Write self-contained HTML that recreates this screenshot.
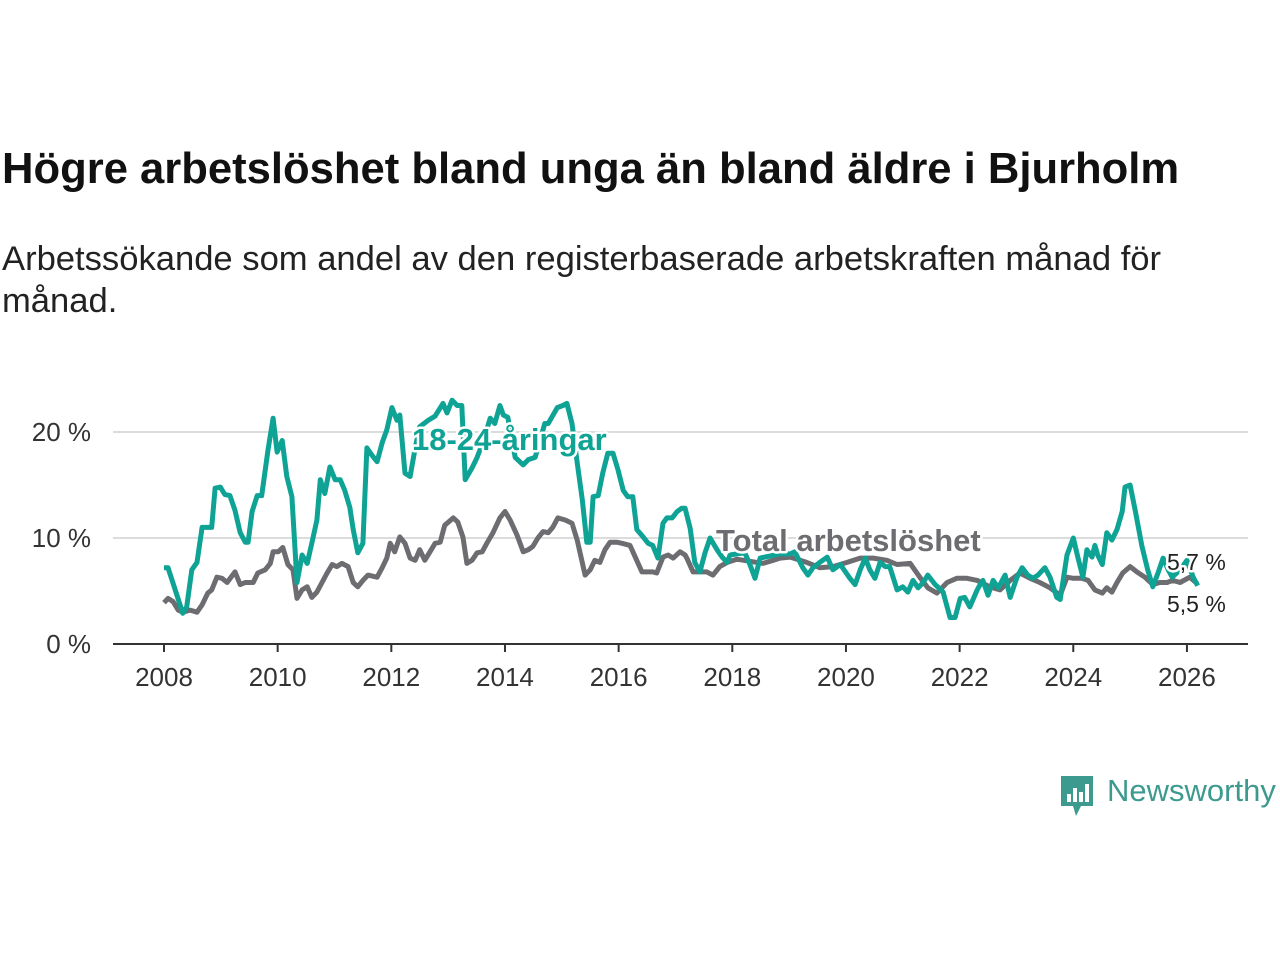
<!DOCTYPE html>
<html><head><meta charset="utf-8">
<style>
body{margin:0;width:1280px;height:960px;background:#fff;font-family:"Liberation Sans","DejaVu Sans",sans-serif;overflow:hidden;position:relative}
h1{position:absolute;left:2px;top:145px;margin:0;font-size:43.6px;font-weight:bold;color:#111;white-space:nowrap}
.sub{position:absolute;left:2px;top:238px;margin:0;font-size:34.6px;line-height:42px;color:#222;width:1250px}
svg{position:absolute;left:0;top:0}
</style></head><body>
<h1>Högre arbetslöshet bland unga än bland äldre i Bjurholm</h1>
<p class="sub">Arbetssökande som andel av den registerbaserade arbetskraften månad för<br>månad.</p>
<svg id="chart" width="1280" height="960"></svg>
<div style="position:absolute;left:1059px;top:774px;">
<svg width="36" height="44" style="position:absolute;left:0;top:0">
<path d="M2 2 H34 V32 H22 L17 42 L14 32 H2 Z" fill="#3d9a8e"/>
<rect x="8" y="20" width="4" height="8" fill="#fff"/><rect x="14" y="14" width="4" height="14" fill="#fff"/><rect x="20" y="18" width="4" height="10" fill="#fff"/><rect x="26" y="10" width="4" height="18" fill="#fff"/>
</svg>
<span style="position:absolute;left:48px;top:-1px;font-size:31px;color:#3d9a8e;white-space:nowrap">Newsworthy</span>
</div>
<script>
const tealYears=[2008.0,2008.07,2008.33,2008.40,2008.49,2008.58,2008.67,2008.84,2008.90,2008.99,2009.07,2009.16,2009.25,2009.34,2009.43,2009.48,2009.55,2009.64,2009.72,2009.83,2009.92,2009.99,2010.08,2010.16,2010.25,2010.34,2010.43,2010.52,2010.60,2010.69,2010.75,2010.83,2010.92,2011.01,2011.10,2011.18,2011.27,2011.33,2011.41,2011.50,2011.57,2011.66,2011.75,2011.84,2011.92,2012.01,2012.10,2012.15,2012.24,2012.33,2012.42,2012.50,2012.65,2012.77,2012.91,2012.98,2013.07,2013.16,2013.24,2013.30,2013.42,2013.51,2013.61,2013.74,2013.82,2013.91,2013.97,2014.05,2014.18,2014.32,2014.41,2014.53,2014.70,2014.76,2014.92,2015.02,2015.09,2015.18,2015.27,2015.36,2015.44,2015.50,2015.55,2015.64,2015.72,2015.81,2015.90,2015.99,2016.08,2016.16,2016.25,2016.32,2016.43,2016.52,2016.60,2016.69,2016.78,2016.85,2016.94,2017.03,2017.11,2017.17,2017.26,2017.34,2017.43,2017.52,2017.61,2017.73,2017.82,2017.91,2017.96,2018.08,2018.22,2018.31,2018.40,2018.49,2018.66,2018.84,2019.02,2019.10,2019.24,2019.33,2019.42,2019.54,2019.67,2019.77,2019.90,2020.07,2020.16,2020.25,2020.34,2020.42,2020.51,2020.60,2020.69,2020.77,2020.90,2021.00,2021.09,2021.18,2021.27,2021.36,2021.44,2021.57,2021.71,2021.83,2021.92,2022.01,2022.09,2022.18,2022.31,2022.36,2022.41,2022.50,2022.59,2022.68,2022.80,2022.89,2023.01,2023.10,2023.20,2023.29,2023.38,2023.50,2023.59,2023.71,2023.77,2023.89,2024.00,2024.08,2024.17,2024.24,2024.33,2024.38,2024.43,2024.51,2024.59,2024.68,2024.77,2024.86,2024.91,2025.00,2025.09,2025.21,2025.31,2025.40,2025.49,2025.58,2025.67,2025.74,2025.88,2026.00,2026.11,2026.19];
const tealValues=[7.2,7.2,2.9,3.5,7,7.7,11,11,14.7,14.8,14.1,14,12.6,10.5,9.6,9.6,12.5,14,14,18.3,21.3,18.1,19.2,15.8,13.9,5.8,8.4,7.6,9.5,11.7,15.5,14.2,16.7,15.5,15.5,14.5,12.9,10.8,8.6,9.5,18.5,17.8,17.2,19,20.2,22.3,21.1,21.6,16.1,15.8,18.5,20.5,21.1,21.5,22.7,21.8,23,22.5,22.5,15.5,16.6,17.6,19,21.3,20.8,22.5,21.6,21.4,17.6,16.9,17.4,17.6,20.8,20.8,22.3,22.5,22.7,20.8,17.1,13.6,9.6,9.6,13.9,14,16.1,18,18,16.4,14.5,13.9,13.9,10.8,10.1,9.5,9.3,8.1,11.4,11.9,11.9,12.5,12.8,12.8,10.9,7.7,6.8,8.6,10,8.9,8.2,7.7,8.4,8.5,8.6,7.5,6.2,8.1,8.3,8.5,8.5,8.7,7.2,6.5,7.2,7.7,8.2,7,7.5,6.2,5.6,7,8.1,7,6.2,7.7,7.3,7.3,5.1,5.4,4.9,6,5.3,5.8,6.5,5.6,4.9,2.5,2.5,4.3,4.4,3.5,5.1,5.6,6,4.6,6,5.3,6.5,4.4,6.3,7.2,6.5,6.2,6.5,7.2,6.3,4.4,4.2,8.4,10,8.2,6.3,8.9,8.2,9.3,8.4,7.5,10.5,9.8,10.8,12.5,14.8,15,12.6,9.2,7,5.4,6.7,8.1,7,6.3,7,7.9,6.3,5.5];
const grayYears=[2008.0,2008.07,2008.16,2008.25,2008.33,2008.46,2008.58,2008.67,2008.77,2008.84,2008.93,2009.02,2009.11,2009.25,2009.34,2009.43,2009.57,2009.65,2009.78,2009.87,2009.92,2010.01,2010.09,2010.18,2010.27,2010.34,2010.43,2010.52,2010.60,2010.69,2010.78,2010.87,2010.96,2011.04,2011.13,2011.24,2011.33,2011.41,2011.50,2011.59,2011.75,2011.84,2011.92,2011.98,2012.06,2012.15,2012.24,2012.33,2012.42,2012.50,2012.59,2012.68,2012.77,2012.86,2012.94,2013.09,2013.17,2013.26,2013.33,2013.42,2013.51,2013.60,2013.68,2013.79,2013.91,2014.00,2014.09,2014.21,2014.32,2014.41,2014.49,2014.58,2014.67,2014.76,2014.84,2014.93,2015.06,2015.18,2015.27,2015.41,2015.50,2015.58,2015.67,2015.76,2015.85,2015.97,2016.06,2016.20,2016.41,2016.52,2016.60,2016.67,2016.78,2016.87,2016.96,2017.08,2017.17,2017.20,2017.31,2017.43,2017.55,2017.66,2017.78,2017.91,2018.08,2018.31,2018.54,2018.72,2018.84,2019.02,2019.31,2019.54,2019.77,2020.02,2020.25,2020.48,2020.72,2020.90,2021.13,2021.30,2021.44,2021.60,2021.78,2021.95,2022.13,2022.31,2022.53,2022.71,2022.89,2023.06,2023.24,2023.41,2023.59,2023.77,2023.89,2024.00,2024.15,2024.26,2024.38,2024.51,2024.59,2024.68,2024.77,2024.87,2025.00,2025.12,2025.26,2025.40,2025.52,2025.65,2025.75,2025.88,2026.05,2026.18];
const grayValues=[3.9,4.3,4,3.2,3,3.2,3,3.7,4.8,5.1,6.3,6.2,5.8,6.8,5.6,5.8,5.8,6.7,7,7.6,8.7,8.7,9.1,7.5,7,4.3,5.1,5.4,4.4,4.9,5.8,6.7,7.5,7.3,7.6,7.3,5.8,5.4,6,6.5,6.3,7.2,8.1,9.5,8.7,10.1,9.5,8.1,7.9,8.9,7.9,8.7,9.5,9.6,11.2,11.9,11.5,10.1,7.6,7.9,8.6,8.7,9.5,10.5,11.9,12.5,11.7,10.3,8.7,8.9,9.2,10,10.6,10.5,11,11.9,11.7,11.4,9.8,6.5,7,7.9,7.7,8.9,9.6,9.6,9.5,9.3,6.8,6.8,6.8,6.7,8.2,8.4,8.1,8.7,8.4,8.1,6.8,6.8,6.8,6.5,7.3,7.7,8,7.8,7.6,7.9,8.1,8.2,7.7,7.2,7.3,7.7,8.1,8.1,7.9,7.5,7.6,6.3,5.3,4.8,5.8,6.2,6.2,6,5.4,5.1,6,6.7,6.2,5.8,5.3,4.6,6.3,6.2,6.2,6,5.1,4.8,5.3,4.9,5.8,6.7,7.3,6.8,6.3,5.6,5.8,5.8,6,5.8,6.3,5.7];
const xTicks=[2008,2010,2012,2014,2016,2018,2020,2022,2024,2026];
const yTicks=[0,10,20];
const yTickLabels=["0 %","10 %","20 %"];

const NS="http://www.w3.org/2000/svg";
const svg=document.getElementById('chart');
const X=y=>164+(y-2008)*56.83;
const Y=v=>644-v*10.6;
function mk(tag,attrs,parent){const e=document.createElementNS(NS,tag);for(const k in attrs)e.setAttribute(k,attrs[k]);(parent||svg).appendChild(e);return e;}
yTicks.forEach((t,i)=>{
  if(t>0){const g=mk('line',{x1:113,x2:1248,y1:Y(t),y2:Y(t),stroke:'#dcdcdc','stroke-width':2});
  
  }
  const l=mk('text',{x:91,y:Y(t)+9,'text-anchor':'end','font-size':26,fill:'#333','font-family':'Liberation Sans, DejaVu Sans, sans-serif'});
  l.textContent=yTickLabels[i];
  
  
});
const ax=mk('line',{x1:113,x2:1248,y1:644,y2:644,stroke:'#333','stroke-width':2});


xTicks.forEach(t=>{
  const tk=mk('line',{x1:X(t),x2:X(t),y1:644,y2:652,stroke:'#333','stroke-width':2});
  
  
  const l=mk('text',{x:X(t),y:686,'text-anchor':'middle','font-size':26,fill:'#333','font-family':'Liberation Sans, DejaVu Sans, sans-serif'});
  l.textContent=t;
  
  
});
function line(xs,vs,color,name){
  const d=xs.map((x,i)=>(i?'L':'M')+X(x).toFixed(1)+' '+Y(vs[i]).toFixed(1)).join(' ');
  const p=mk('path',{d:d,fill:'none',stroke:color,'stroke-width':5,'stroke-linejoin':'round'});
  
  
}
line(grayYears,grayValues,'#6d6c70','total-line');
line(tealYears,tealValues,'#0ea394','youth-line');
function label(txt,x,y,color,size,weight,anchor,name){
  const t=mk('text',{x:x,y:y,'font-size':size,'font-weight':weight,fill:color,stroke:'#fff','stroke-width':5,'paint-order':'stroke','stroke-linejoin':'round','text-anchor':anchor||'start','font-family':'Liberation Sans, DejaVu Sans, sans-serif'});
  t.textContent=txt;
  
  
}
label('18-24-åringar',412,450,'#0ea394',31,'bold','start','youth-series-label');
label('Total arbetslöshet',716,551,'#6d6c70',31,'bold','start','total-series-label');
label('5,7 %',1167,570,'#222',23,'normal','start','youth-end-value');
label('5,5 %',1167,612,'#222',23,'normal','start','total-end-value');
</script>
</body></html>
